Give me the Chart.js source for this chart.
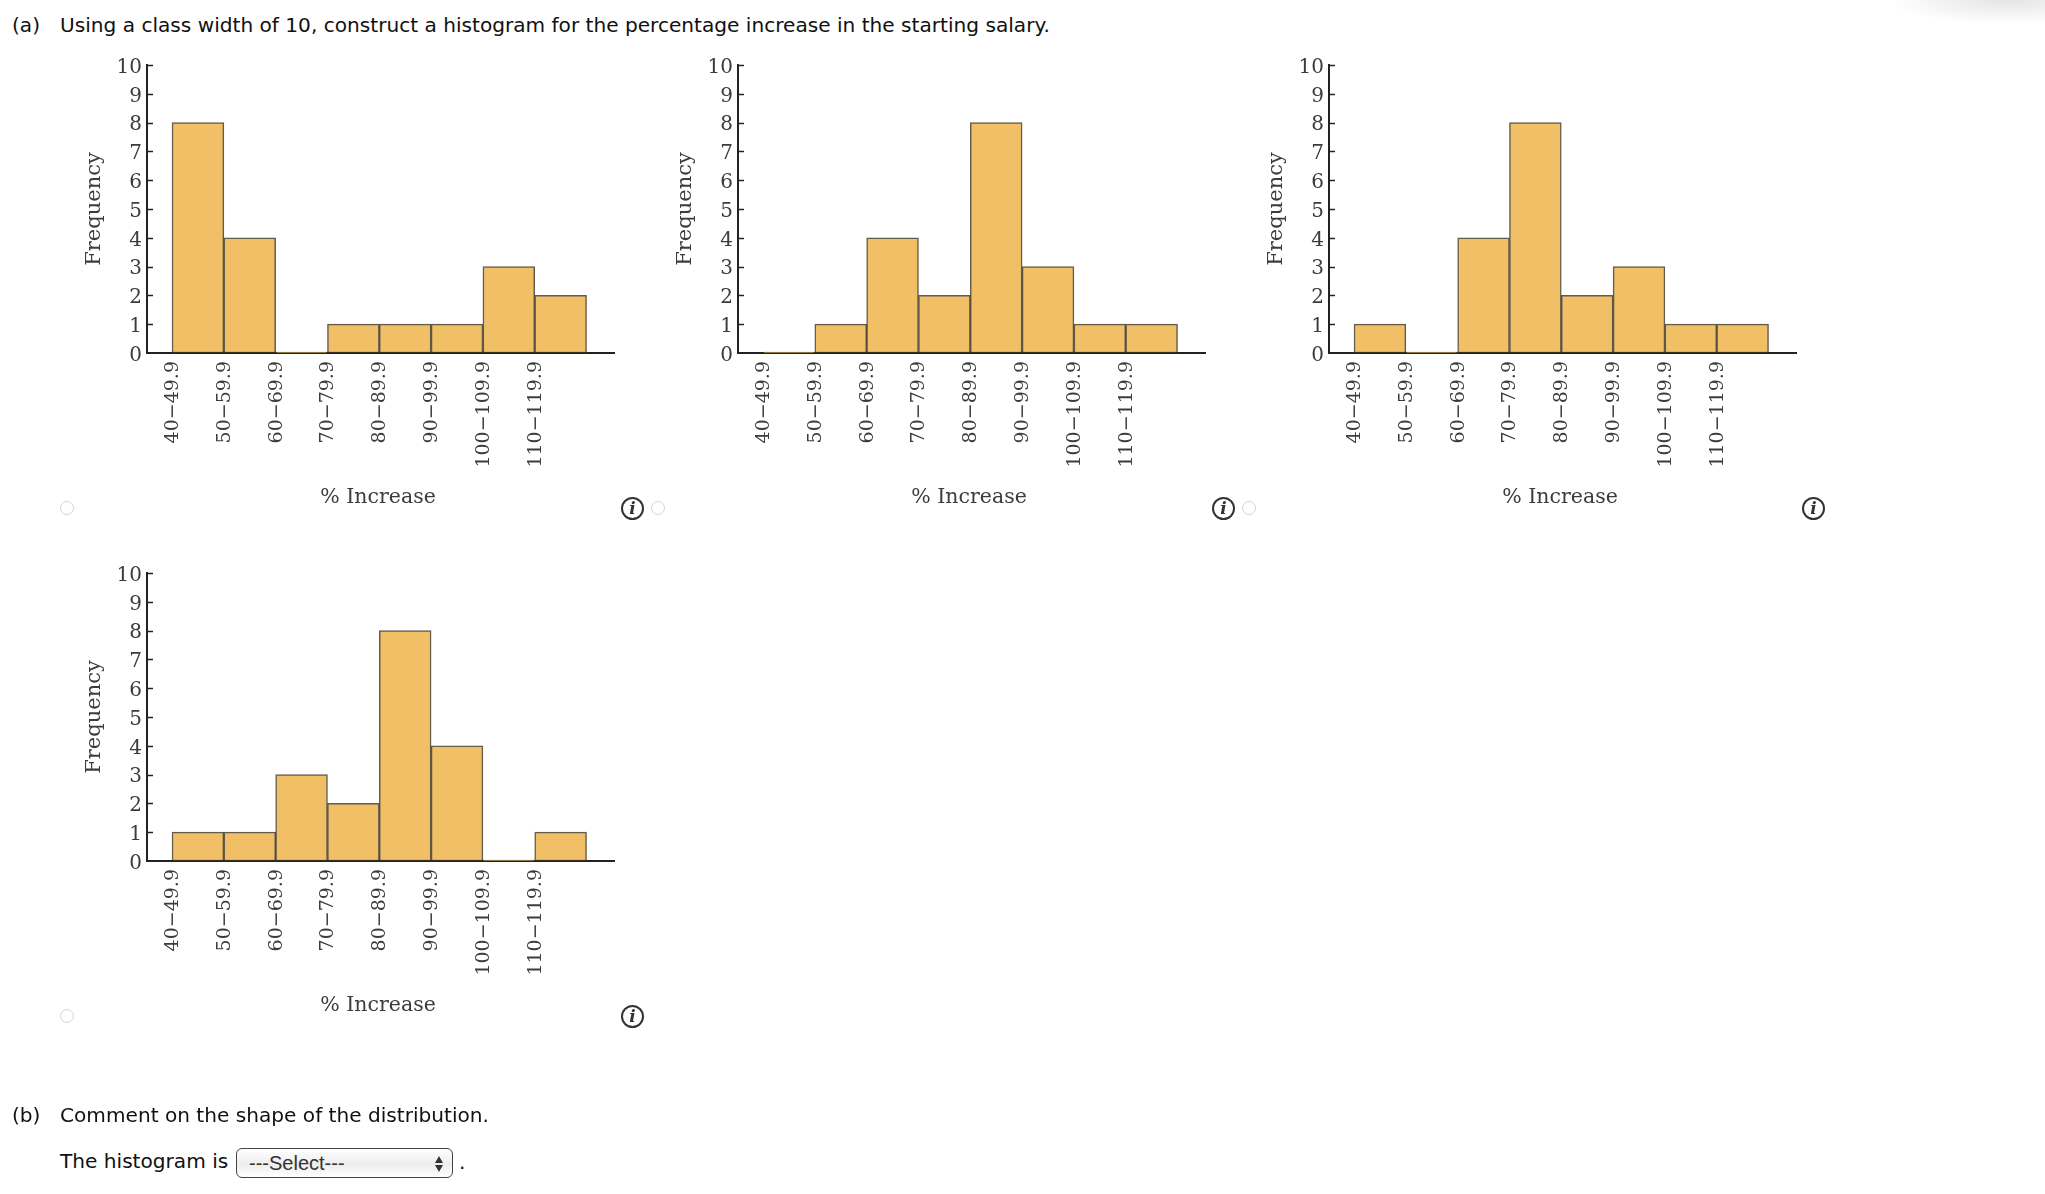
<!DOCTYPE html>
<html>
<head>
<meta charset="utf-8">
<title>Histogram options</title>
<script src="https://cdn.jsdelivr.net/npm/chart.js@4"></script>
<style>
html, body { margin: 0; padding: 0; background: #fff; }
body { width: 2045px; height: 1194px; position: relative; overflow: hidden; font-family: "DejaVu Sans", sans-serif; color: #111; font-size: 20.12px; }
.t { position: absolute; white-space: nowrap; line-height: 24px; }
canvas { position: absolute; }
.radio { position: absolute; width: 12px; height: 12px; border: 1.5px solid #d4d4d4; border-radius: 50%; background: #fff; }
.info { position: absolute; width: 19px; height: 19px; border: 2.5px solid #333; border-radius: 50%; font: italic bold 17px/19px "DejaVu Serif", serif; text-align: center; color: #333; }
.shade { position: absolute; right: 0; top: 0; width: 150px; height: 26px; background: radial-gradient(ellipse 120px 24px at 75% 0, #e4e4e4, rgba(255,255,255,0)); }
.select { position: absolute; left: 236px; top: 1148px; width: 215px; height: 28px; border: 1.5px solid #444; border-radius: 6px; background: linear-gradient(#fff, #ededed 55%, #fff); font: 20px/28px "Liberation Sans", sans-serif; color: #333; }
.select span { position: absolute; left: 12px; }
.select i { position: absolute; right: 9px; width: 0; height: 0; border-left: 4.5px solid transparent; border-right: 4.5px solid transparent; }
</style>
</head>
<body>
<div class="shade"></div>
<div class="t" style="left:12px;top:13px">(a)</div>
<div class="t" style="left:60px;top:13px">Using a class width of 10, construct a histogram for the percentage increase in the starting salary.</div>

<canvas id="c0" width="560" height="480" style="left:70px;top:40px"></canvas>
<canvas id="c1" width="560" height="480" style="left:661px;top:40px"></canvas>
<canvas id="c2" width="560" height="480" style="left:1251.5px;top:40px"></canvas>
<canvas id="c3" width="560" height="480" style="left:70px;top:548px"></canvas>

<div class="radio" style="left:60px;top:501px"></div>
<div class="radio" style="left:651px;top:501px"></div>
<div class="radio" style="left:1242px;top:501px"></div>
<div class="radio" style="left:60px;top:1009px"></div>
<div class="info" style="left:621px;top:497px">i</div>
<div class="info" style="left:1212px;top:497px">i</div>
<div class="info" style="left:1802px;top:497px">i</div>
<div class="info" style="left:621px;top:1005px">i</div>

<div class="t" style="left:12px;top:1103px">(b)</div>
<div class="t" style="left:60px;top:1103px">Comment on the shape of the distribution.</div>
<div class="t" style="left:60px;top:1149px">The histogram is</div>
<div class="select"><span>---Select---</span>
  <i style="top:7px;border-bottom:7px solid #333"></i>
  <i style="top:16px;border-top:7px solid #333"></i>
</div>
<div class="t" style="left:459px;top:1150px">.</div>

<script>
var classLabels = ["40−49.9", "50−59.9", "60−69.9", "70−79.9", "80−89.9", "90−99.9", "100−109.9", "110−119.9"];
var classStarts = [40, 50, 60, 70, 80, 90, 100, 110];
var classMids = [45, 55, 65, 75, 85, 95, 105, 115];
var optionA = [8, 4, 0, 1, 1, 1, 3, 2];
var optionB = [0, 1, 4, 2, 8, 3, 1, 1];
var optionC = [1, 0, 4, 8, 2, 3, 1, 1];
var optionD = [1, 1, 3, 2, 8, 4, 0, 1];
var allOptions = [optionA, optionB, optionC, optionD];

var fillColor = "#f0bf66";
var edgeColor = "rgba(60,50,30,0.8)";
var axisColor = "#222";
var textColor = "#3c3c3c";

// y ticks in the picture point into the plot, chart.js only draws them outwards
var innerTicks = {
    id: "innerTicks",
    afterDraw: function(chart) {
        var ctx = chart.ctx, y = chart.scales.y, left = chart.chartArea.left;
        ctx.save();
        ctx.strokeStyle = axisColor;
        ctx.lineWidth = 1.5;
        y.ticks.forEach(function(t, i) {
            var py = Math.round(y.getPixelForTick(i)) + 0.5;
            if (t.value == 0) return;
            ctx.beginPath();
            ctx.moveTo(left, py);
            ctx.lineTo(left + 6, py);
            ctx.stroke();
        });
        ctx.restore();
    }
};

// nudge the labels a little, the reference sits them off the default spot
var nudgeLabels = {
    id: "nudgeLabels",
    beforeDraw: function(chart) {
        var x = chart.scales.x, ctx = chart.ctx;
        chart.scales.y.getLabelItems().forEach(function(item) {
            item.options.translation[1] += 2.5;
        });
        x.getLabelItems().forEach(function(item) {
            item.options.translation[0] += 1;
        });
        var drawTitle = x.drawTitle;
        x.drawTitle = function() {
            ctx.save();
            ctx.translate(-2.5, 0);
            drawTitle.call(x);
            ctx.restore();
        };
    }
};

allOptions.forEach(function(values, n) {
    var ctx = document.getElementById("c" + n).getContext("2d");
    new Chart(ctx, {
        type: "bar",
        data: {
            datasets: [{
                data: classMids.map(function(m, i) { return { x: m, y: values[i] }; }),
                backgroundColor: fillColor,
                borderColor: edgeColor,
                borderWidth: 1.5,
                borderSkipped: false,
                minBarLength: 1,
                barPercentage: 1,
                categoryPercentage: 1
            }]
        },
        plugins: [innerTicks, nudgeLabels],
        options: {
            responsive: false,
            animation: false,
            layout: { padding: { top: 25, left: 12, right: 16, bottom: 0 } },
            plugins: { legend: { display: false }, tooltip: { enabled: false } },
            scales: {
                x: {
                    type: "linear",
                    offset: false,
                    min: 35.17,
                    max: 125.3,
                    grid: { display: false, drawTicks: false },
                    border: { color: axisColor, width: 2 },
                    afterBuildTicks: function(axis) {
                        axis.ticks = classStarts.map(function(v) { return { value: v }; });
                    },
                    afterFit: function(axis) { axis.height = 167; },
                    ticks: {
                        autoSkip: false,
                        minRotation: 90,
                        maxRotation: 90,
                        padding: 8,
                        color: textColor,
                        font: { family: "DejaVu Serif", size: 19 },
                        callback: function(v) { return classLabels[classStarts.indexOf(v)]; }
                    },
                    title: {
                        display: true,
                        text: "% Increase",
                        color: textColor,
                        padding: { top: 0, bottom: 10 },
                        font: { family: "DejaVu Serif", size: 20.5 }
                    }
                },
                y: {
                    min: 0,
                    max: 10,
                    grid: { display: false, drawTicks: false },
                    border: { color: axisColor, width: 2 },
                    afterFit: function(axis) { axis.width = 65; },
                    ticks: {
                        stepSize: 1,
                        padding: 5,
                        color: textColor,
                        font: { family: "DejaVu Serif", size: 20 }
                    },
                    title: {
                        display: true,
                        text: "Frequency",
                        color: textColor,
                        padding: 0,
                        font: { family: "DejaVu Serif", size: 21 }
                    }
                }
            }
        }
    });
});
</script>
</body>
</html>
